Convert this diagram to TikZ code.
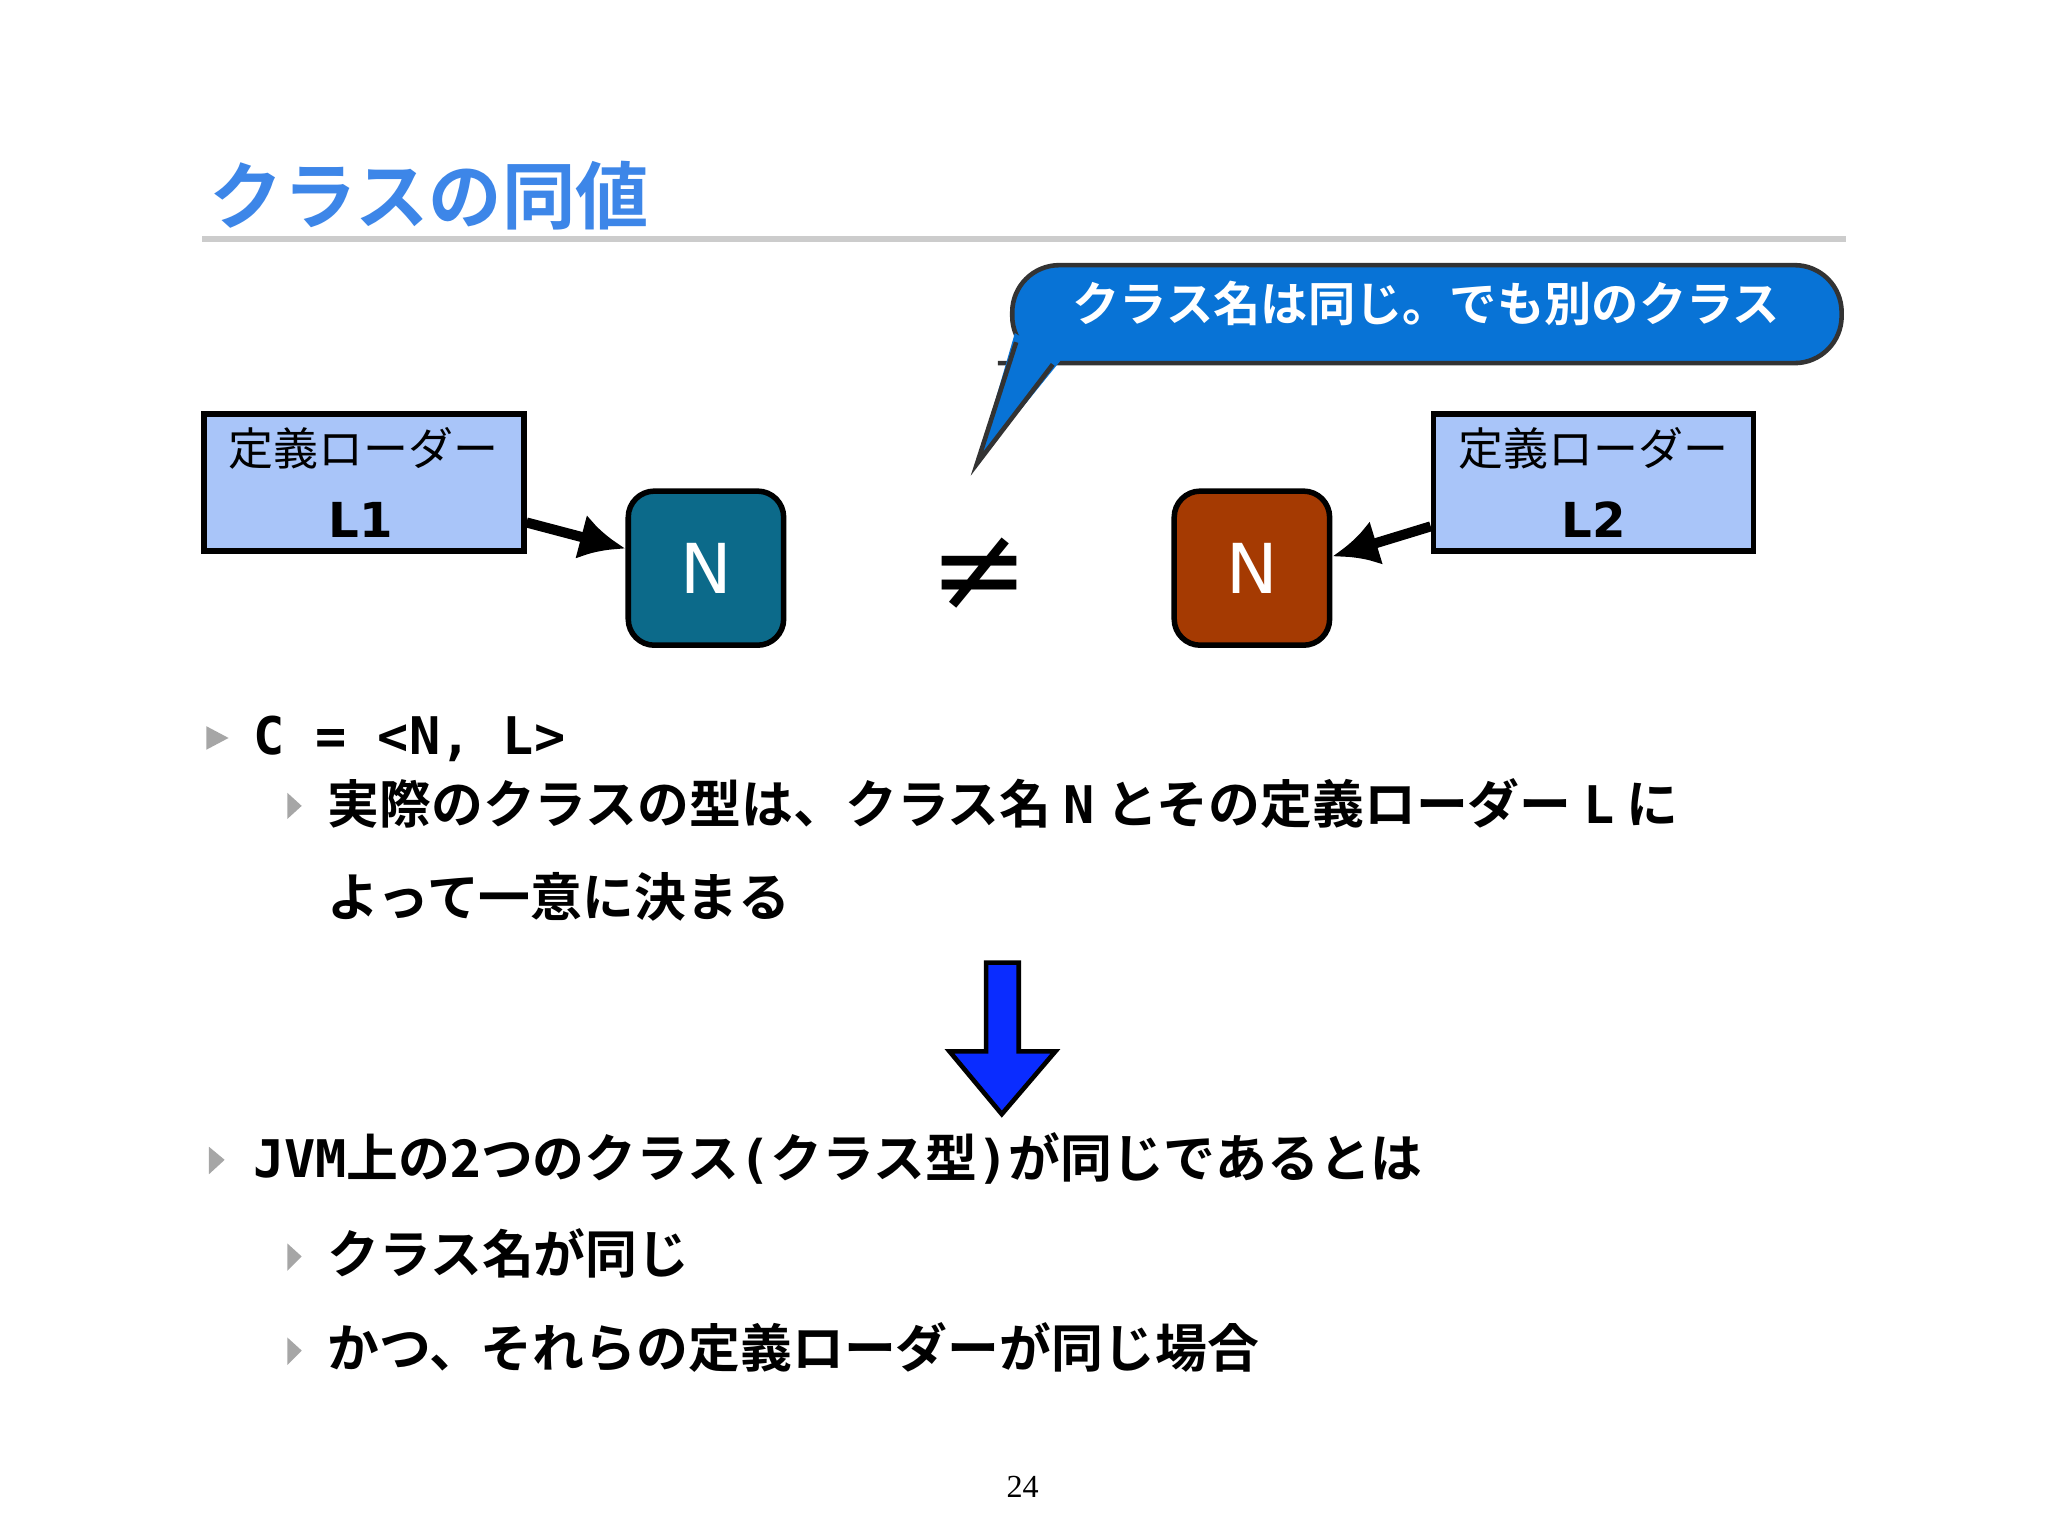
\documentclass[tikz,border=0pt]{standalone}
\usepackage{fontspec}
\setmainfont{Noto Sans CJK JP}
\newfontfamily\jpb{Noto Sans CJK JP Bold}
\newfontfamily\jpr{Noto Sans CJK JP}
\newfontfamily\monob{DejaVu Sans Mono Bold}
\newfontfamily\latn{DejaVu Sans}
\definecolor{ttl}{HTML}{3D86E8}
\definecolor{bub}{HTML}{0873D6}
\definecolor{ldr}{HTML}{A9C5F9}
\definecolor{nA}{HTML}{0C6A8A}
\definecolor{nB}{HTML}{A53A02}
\definecolor{darr}{HTML}{0A2CFF}
\tikzset{
 ldrbox/.style={draw=black,line width=1.2pt,fill=ldr,minimum width=245*0.1mm,minimum height=105*0.1mm},
 nbox/.style={draw=black,line width=1.2pt,rounded corners=5mm*0.4,minimum width=119*0.1mm,minimum height=118*0.1mm,text=white,font=\latn\fontsize{15}{15}\selectfont},
 conn/.style={line width=2.2pt,-{Latex[length=3.5mm,width=3.5mm]}},
 bul/.style={fill=gray!70,draw=none},
 btxt/.style={anchor=west,font=\jpb\fontsize{11.3}{14}\selectfont,inner sep=0pt}
}
\usetikzlibrary{arrows.meta}
\begin{document}
\begin{tikzpicture}[x=0.1mm,y=-0.1mm]
\useasboundingbox[fill=white] (0,0) rectangle (1568,1176);
% title
\node[anchor=west,text=ttl,font=\jpb\fontsize{16}{16}\selectfont,inner sep=0pt] (title) at (160,150) {クラスの同値};
\draw[gray!40,line width=1.2pt] (155,183) -- (1413,183);
% bubble
\draw[fill=bub,draw=black!80,line width=1pt,rounded corners=9mm*0.4]
  (800,278) -- (1410,278) -- (1410,203) -- (775,203) -- (775,278) -- cycle;
\fill[bub] (777,255) -- (812,276) -- (748,355) -- cycle;
\draw[black!80,line width=1pt] (778,262) -- (748,355) -- (806,279);
\node[text=white,font=\jpb\fontsize{10.3}{12}\selectfont] (bt) at (1092,232) {クラス名は同じ。でも別のクラス};
% loaders
\node[ldrbox] (L1) at (278.5,369.5) {};
\node[font=\jpr\fontsize{9.8}{12}\selectfont] at (278,343) {定義ローダー};
\node[font=\latn\bfseries\fontsize{10.5}{12}\selectfont] at (276,398) {L1};
\node[ldrbox] (L2) at (1220,369.5) {};
\node[font=\jpr\fontsize{9.8}{12}\selectfont] at (1220,343) {定義ローダー};
\node[font=\latn\bfseries\fontsize{10.5}{12}\selectfont] at (1220,398) {L2};
% N boxes
\node[nbox,fill=nA] (n1) at (540.5,435) {N};
\node[nbox,fill=nB] (n2) at (958.5,435) {N};
\node[font=\latn\fontsize{26}{26}\selectfont] (ne) at (750,440) {≠};
\draw[conn] (L1.east |- 0,400) -- (n1.west |- 0,420);
\draw[conn] (L2.west |- 0,403) -- (n2.east |- 0,426);
% bullets
\fill[bul] (158,556) -- (175,565) -- (158,574) -- cycle;
\node[btxt] (c) at (193,566) {\monob C = <N, L>};
\fill[bul] (220,607) -- (231,617) -- (220,627) -- cycle;
\node[btxt] (s1) at (250,615) {実際のクラスの型は、クラス名 {\monob N} とその定義ローダー {\monob L} に};
\node[btxt] (s1b) at (250,687) {よって一意に決まる};
% big arrow
\draw[fill=darr,draw=black,line width=1pt] (755,737) -- (780,737) -- (780,805) -- (808,805) -- (767,853) -- (727,805) -- (755,805) -- cycle;
\fill[bul] (160,878) -- (172,888) -- (160,899) -- cycle;
\node[btxt] (j) at (193,887) {{\monob JVM}上の2つのクラス{\monob (}クラス型{\monob )}が同じであるとは};
\fill[bul] (220,952) -- (231,962) -- (220,973) -- cycle;
\node[btxt] (s2) at (250,960) {クラス名が同じ};
\fill[bul] (220,1024) -- (231,1034) -- (220,1045) -- cycle;
\node[btxt] (s3) at (250,1032) {かつ、それらの定義ローダーが同じ場合};
\node[font=\fontsize{7}{8}\selectfont\rmfamily] (pg) at (783,1138) {\fontspec{Liberation Serif}24};
\end{tikzpicture}
\end{document}
